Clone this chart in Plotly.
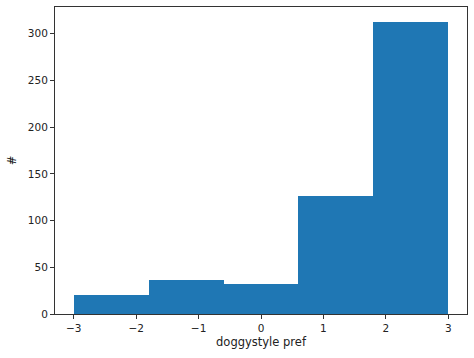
import plotly.graph_objects as go

bin_edges = [-3.0, -1.8, -0.6, 0.6, 1.8, 3.0]
counts = [20, 36, 32, 126, 313]
x_ticks = [-3, -2, -1, 0, 1, 2, 3]
x_tick_labels = ["\u22123", "\u22122", "\u22121", "0", "1", "2", "3"]
y_ticks = [0, 50, 100, 150, 200, 250, 300]

centers = [(bin_edges[i] + bin_edges[i + 1]) / 2 for i in range(len(counts))]
widths = [bin_edges[i + 1] - bin_edges[i] for i in range(len(counts))]

fig = go.Figure(go.Bar(x=centers, y=counts, width=widths,
                       marker=dict(color="#1f77b4", line=dict(width=0))))

axis_common = dict(showline=True, mirror=True, linecolor="#333333", linewidth=1,
                   ticks="outside", ticklen=4, tickcolor="#333333", showgrid=False,
                   zeroline=False, automargin=False,
                   tickfont=dict(family="DejaVu Sans", size=10.5, color="#222222"))

fig.update_layout(
    width=474, height=358,
    margin=dict(l=55, r=7, t=7, b=44),
    plot_bgcolor="white", paper_bgcolor="white",
    showlegend=False, bargap=0,
    font=dict(family="DejaVu Sans", size=10.5, color="#222222"),
    xaxis=dict(range=[-3.3, 3.3], tickvals=x_ticks, ticktext=x_tick_labels,
               title=dict(text="doggystyle pref", standoff=5, font=dict(size=11.5)), **axis_common),
    yaxis=dict(range=[0, 328.65], tickvals=y_ticks,
               title=dict(text="#", standoff=8, font=dict(size=11.5)), **axis_common),
)

fig.write_html("out.html", config={"displayModeBar": False},
               post_script="document.body.style.margin='0';document.body.style.overflow='hidden';")
